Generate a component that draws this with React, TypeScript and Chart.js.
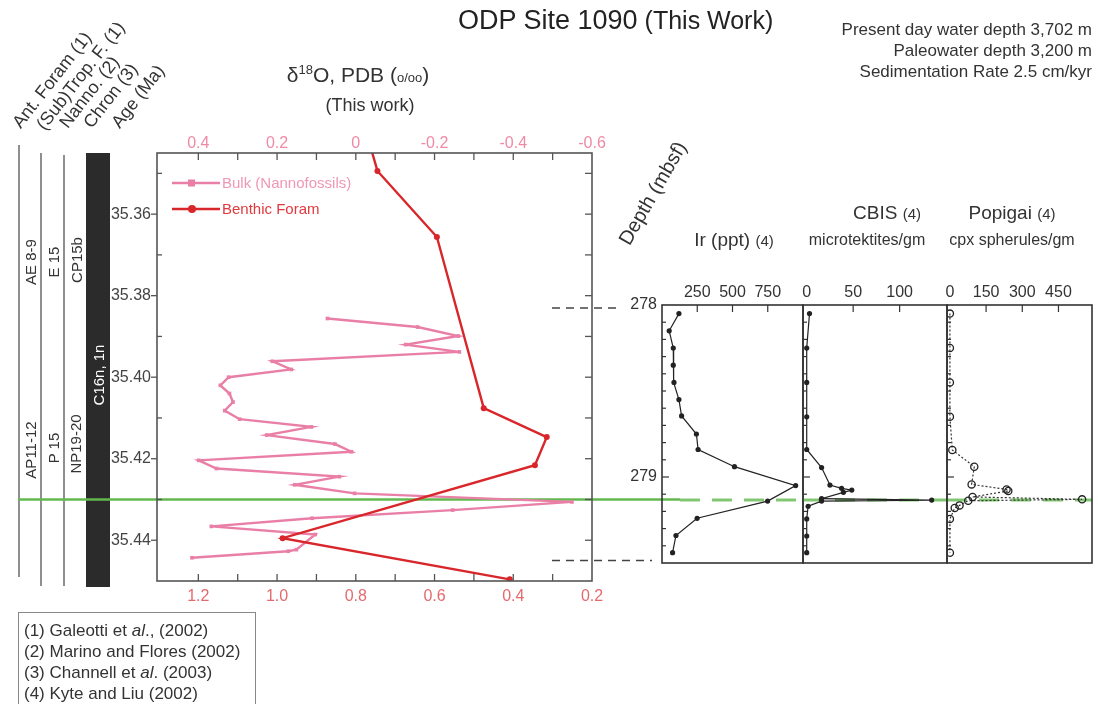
import React, { useEffect, useRef } from "react";
import { Chart, registerables } from "chart.js";

Chart.register(...registerables);

const W = 1098;
const H = 704;
const FONT = "'Liberation Sans', Arial, Helvetica, sans-serif";
Chart.defaults.font.family = FONT;
Chart.defaults.font.size = 16;

// ---------- δ18O panel (age, Ma) ----------
const BULK_AGE = [35.3856, 35.3877, 35.3899, 35.392, 35.3938, 35.3961, 35.3981, 35.4, 35.402, 35.404, 35.4061, 35.4082, 35.4103, 35.4122, 35.4142, 35.4164, 35.4183, 35.4204, 35.4224, 35.4244, 35.4264, 35.4285, 35.4306, 35.4326, 35.4346, 35.4366, 35.4386, 35.4423, 35.4427, 35.4443];
const BULK_D18O = [0.072, -0.157, -0.26, -0.127, -0.263, 0.212, 0.164, 0.323, 0.344, 0.321, 0.312, 0.333, 0.295, 0.113, 0.226, 0.053, 0.011, 0.399, 0.354, 0.042, 0.155, 0.003, -0.549, -0.246, 0.111, 0.367, 0.103, 0.151, 0.172, 0.416];
const BENTHIC_AGE = [35.335, 35.3494, 35.3656, 35.4076, 35.4147, 35.4216, 35.4395, 35.4496];
const BENTHIC_D18O = [0.788, 0.745, 0.594, 0.475, 0.315, 0.345, 0.986, 0.409];

const AGE_LABELS = [35.36, 35.38, 35.4, 35.42, 35.44];
const AGE_MINOR = [35.35, 35.36, 35.37, 35.38, 35.39, 35.4, 35.41, 35.42, 35.43, 35.44];
const TOP_LABELS = [0.4, 0.2, 0, -0.2, -0.4, -0.6];
const TOP_MINOR = [0.4, 0.3, 0.2, 0.1, 0, -0.1, -0.2, -0.3, -0.4, -0.5];
const BOT_LABELS = [1.2, 1.0, 0.8, 0.6, 0.4, 0.2];
const BOT_MINOR = [1.2, 1.1, 1.0, 0.9, 0.8, 0.7, 0.6, 0.5, 0.4, 0.3];

const IMPACT_AGE = 35.43;
const IMPACT_DEPTH = 279.134;
const TIE_AGES = [35.383, 35.445];

// ---------- impact-ejecta panels (depth, mbsf) ----------
const IR_DEPTH = [278.05, 278.15, 278.25, 278.35, 278.45, 278.55, 278.645, 278.75, 278.84, 278.94, 279.05, 279.14, 279.24, 279.34, 279.44];
const IR_PPT = [120, 51, 80, 80, 85, 120, 139, 244, 256, 514, 948, 749, 249, 99, 75];
const CBIS_DEPTH = [278.05, 278.25, 278.45, 278.65, 278.84, 278.945, 279.047, 279.066, 279.076, 279.089, 279.126, 279.134, 279.14, 279.17, 279.244, 279.343, 279.44];
const CBIS_COUNT = [3, 0, 0, 0, 0, 16, 25, 37.5, 48.5, 39.5, 16, 134.5, 16, 1.5, 0, 0, 0];
const POP_DEPTH = [278.05, 278.25, 278.45, 278.65, 278.843, 278.94, 279.043, 279.072, 279.081, 279.116, 279.13, 279.138, 279.165, 279.18, 279.244, 279.44];
const POP_COUNT = [0, 0, 0, 0, 10, 101, 90, 235, 242, 94, 548, 76, 40, 20, 0, 0];

const DEPTH_LABELS = [278, 279];
const DEPTH_MINOR = [278.1, 278.2, 278.3, 278.4, 278.5, 278.6, 278.7, 278.8, 278.9, 279, 279.1, 279.2, 279.3, 279.4];
const IR_TICKS = [250, 500, 750];
const CBIS_TICKS = [0, 50, 100];
const POP_TICKS = [0, 150, 300, 450];

const PINK = "#e97fa6";
const RED = "#d9262b";
const GREEN = "#62b84f";

function line(ctx: CanvasRenderingContext2D, x1: number, y1: number, x2: number, y2: number) {
  ctx.beginPath();
  ctx.moveTo(x1, y1);
  ctx.lineTo(x2, y2);
  ctx.stroke();
}

const mainDecor = {
  id: "mainDecor",
  beforeDatasetsDraw(chart: any) {
    const { ctx, scales } = chart;
    const y = scales.y;
    ctx.save();
    // stratigraphic columns
    ctx.strokeStyle = "#6a6a6a";
    ctx.lineWidth = 1.5;
    line(ctx, 19, 145, 19, 577);
    line(ctx, 41, 153, 41, 586);
    line(ctx, 64, 155, 64, 586);
    ctx.fillStyle = "#2b2b2b";
    ctx.fillRect(86, 153, 24, 434);
    // tie lines to depth panels
    ctx.strokeStyle = "#444";
    ctx.lineWidth = 1.5;
    ctx.setLineDash([8, 6]);
    const t1 = y.getPixelForValue(TIE_AGES[0]);
    const t2 = y.getPixelForValue(TIE_AGES[1]);
    line(ctx, 552, t1, 622, t1);
    line(ctx, 552, t2, 652, t2);
    ctx.setLineDash([]);
    // impact level
    const gy = y.getPixelForValue(IMPACT_AGE);
    ctx.strokeStyle = GREEN;
    ctx.lineWidth = 2.5;
    line(ctx, 18, gy, 680, gy);
    ctx.restore();
  },
  afterDatasetsDraw(chart: any) {
    const { ctx, chartArea: a, scales } = chart;
    const xt = scales.xTop, xb = scales.xBot, y = scales.y;
    ctx.save();
    ctx.strokeStyle = "#555";
    ctx.lineWidth = 1.3;
    TOP_MINOR.forEach((v) => {
      const x = xt.getPixelForValue(v);
      line(ctx, x, a.top, x, a.top + 7);
    });
    BOT_MINOR.forEach((v) => {
      const x = xb.getPixelForValue(v);
      line(ctx, x, a.bottom, x, a.bottom - 7);
    });
    AGE_MINOR.forEach((v) => {
      const py = y.getPixelForValue(v);
      const major = AGE_LABELS.some((l) => Math.abs(l - v) < 1e-6);
      if (major) line(ctx, a.left - 6, py, a.left, py);
      else line(ctx, a.left, py, a.left + 5, py);
      line(ctx, a.right - 7, py, a.right, py);
    });
    ctx.lineWidth = 1.6;
    ctx.strokeRect(a.left, a.top, a.right - a.left, a.bottom - a.top);
    // legend
    const items = [
      { label: "Bulk (Nannofossils)", color: PINK, text: "#f096b6", rect: true, dy: 30 },
      { label: "Benthic Foram", color: RED, text: "#e0393e", rect: false, dy: 56 },
    ];
    ctx.font = `15px ${FONT}`;
    ctx.textBaseline = "middle";
    items.forEach((it) => {
      const ly = a.top + it.dy;
      ctx.strokeStyle = it.color;
      ctx.lineWidth = 2.4;
      line(ctx, a.left + 15, ly, a.left + 63, ly);
      ctx.fillStyle = it.color;
      if (it.rect) ctx.fillRect(a.left + 31, ly - 3.5, 7, 7);
      else {
        ctx.beginPath();
        ctx.arc(a.left + 35, ly, 4, 0, Math.PI * 2);
        ctx.fill();
      }
      ctx.fillStyle = it.text;
      ctx.fillText(it.label, a.left + 65, ly + 1);
    });
    ctx.restore();
  },
};

function mainConfig(): any {
  const fixTicks = (vals: number[]) => (s: any) => {
    s.ticks = vals.map((v) => ({ value: v }));
  };
  return {
    type: "scatter",
    data: {
      datasets: [
        {
          label: "Bulk (Nannofossils)",
          data: BULK_AGE.map((a, i) => ({ x: BULK_D18O[i], y: a })),
          xAxisID: "xTop",
          yAxisID: "y",
          showLine: true,
          order: 1,
          borderColor: PINK,
          backgroundColor: PINK,
          borderWidth: 2.4,
          pointStyle: "rect",
          pointRadius: 2.6,
          pointBorderWidth: 0,
        },
        {
          label: "Benthic Foram",
          data: BENTHIC_AGE.map((a, i) => ({ x: BENTHIC_D18O[i], y: a })),
          xAxisID: "xBot",
          yAxisID: "y",
          showLine: true,
          order: 0,
          borderColor: RED,
          backgroundColor: RED,
          borderWidth: 2.4,
          pointRadius: 3,
          pointBorderWidth: 0,
        },
      ],
    },
    options: {
      responsive: false,
      animation: false,
      devicePixelRatio: 1,
      events: [],
      layout: { padding: { left: 97, right: 506, top: 123, bottom: 93 } },
      plugins: { legend: { display: false }, tooltip: { enabled: false } },
      scales: {
        xTop: {
          type: "linear",
          position: "top",
          min: -0.6,
          max: 0.505,
          reverse: true,
          grid: { display: false, drawTicks: false },
          border: { display: false },
          afterBuildTicks: fixTicks(TOP_LABELS),
          afterFit: (s: any) => {
            s.height = 30;
          },
          ticks: {
            autoSkip: false,
            maxRotation: 0,
            padding: 0,
            color: "#ef8aa6",
            font: { size: 16 },
            callback: (v: number) => (Math.abs(v) < 1e-9 ? "0" : v.toFixed(1)),
          },
        },
        xBot: {
          type: "linear",
          position: "bottom",
          min: 0.2,
          max: 1.305,
          reverse: true,
          grid: { display: false, drawTicks: false },
          border: { display: false },
          afterBuildTicks: fixTicks(BOT_LABELS),
          afterFit: (s: any) => {
            s.height = 30;
          },
          ticks: {
            autoSkip: false,
            maxRotation: 0,
            padding: 6,
            color: "#e46a6e",
            font: { size: 16 },
            callback: (v: number) => v.toFixed(1),
          },
        },
        y: {
          type: "linear",
          position: "left",
          min: 35.345,
          max: 35.45,
          reverse: true,
          grid: { display: false, drawTicks: false },
          border: { display: false },
          afterBuildTicks: fixTicks(AGE_LABELS),
          afterFit: (s: any) => {
            s.width = 60;
          },
          ticks: {
            autoSkip: false,
            padding: 6,
            color: "#444",
            font: { size: 16 },
            callback: (v: number) => v.toFixed(2),
          },
        },
      },
    },
    plugins: [mainDecor],
  };
}

function panelConfig(p: {
  depth: number[];
  values: number[];
  xMin: number;
  xMax: number;
  xTicks: number[];
  showDepth: boolean;
  padL: number;
  padR: number;
  popigai?: boolean;
  greenOffset: number;
}): any {
  const ds: any = {
    data: p.depth.map((d, i) => ({ x: p.values[i], y: d })),
    showLine: true,
    borderColor: "#222",
    borderWidth: 1.2,
    pointRadius: 2.6,
    pointBackgroundColor: "#222",
    pointBorderColor: "#222",
    pointBorderWidth: 0,
  };
  if (p.popigai) {
    Object.assign(ds, {
      borderDash: [2, 2],
      borderColor: "#333",
      pointRadius: 3.6,
      pointBackgroundColor: "rgba(255,255,255,0)",
      pointBorderWidth: 1.3,
    });
  }
  const plugin = {
    id: "panelDecor",
    beforeDatasetsDraw(chart: any) {
      const { ctx, chartArea: a, scales } = chart;
      const gy = scales.y.getPixelForValue(IMPACT_DEPTH);
      ctx.save();
      ctx.strokeStyle = "rgba(98,184,79,0.8)";
      ctx.lineWidth = 3;
      ctx.setLineDash([20, 12]);
      line(ctx, a.left + p.greenOffset, gy, a.right, gy);
      ctx.restore();
    },
    afterDatasetsDraw(chart: any) {
      const { ctx, chartArea: a, scales } = chart;
      ctx.save();
      ctx.strokeStyle = "#333";
      ctx.lineWidth = 1.2;
      p.xTicks.forEach((v) => {
        if (v <= 0) return;
        const x = scales.x.getPixelForValue(v);
        line(ctx, x, a.top, x, a.top + 7);
      });
      DEPTH_MINOR.forEach((v) => {
        const y = scales.y.getPixelForValue(v);
        const major = DEPTH_LABELS.some((l) => Math.abs(l - v) < 1e-6);
        line(ctx, a.left, y, a.left + (major ? 7 : 4), y);
      });
      ctx.lineWidth = 1.6;
      ctx.strokeRect(a.left, a.top, a.right - a.left, a.bottom - a.top);
      ctx.restore();
    },
  };
  return {
    type: "scatter",
    data: { datasets: [ds] },
    options: {
      responsive: false,
      animation: false,
      devicePixelRatio: 1,
      events: [],
      layout: { padding: { left: p.padL, right: p.padR, top: 280, bottom: 141 } },
      plugins: { legend: { display: false }, tooltip: { enabled: false } },
      scales: {
        x: {
          type: "linear",
          position: "top",
          min: p.xMin,
          max: p.xMax,
          grid: { display: false, drawTicks: false },
          border: { display: false },
          afterBuildTicks: (s: any) => {
            s.ticks = p.xTicks.map((v) => ({ value: v }));
          },
          afterFit: (s: any) => {
            s.height = 25;
          },
          ticks: { autoSkip: false, maxRotation: 0, padding: 3, color: "#333", font: { size: 16 } },
        },
        y: {
          type: "linear",
          position: "left",
          display: p.showDepth,
          min: 278,
          max: 279.5,
          reverse: true,
          grid: { display: false, drawTicks: false },
          border: { display: false },
          afterBuildTicks: (s: any) => {
            s.ticks = DEPTH_LABELS.map((v) => ({ value: v }));
          },
          afterFit: (s: any) => {
            s.width = p.showDepth ? 60 : 0;
          },
          ticks: { autoSkip: false, padding: 5, color: "#333", font: { size: 16 } },
        },
      },
    },
    plugins: [plugin],
  };
}

const abs: React.CSSProperties = { position: "absolute", whiteSpace: "nowrap" };

function Vert({ x, y, text, color = "#333", size = 15 }: any) {
  return (
    <div
      style={{
        ...abs,
        left: x,
        top: y,
        fontSize: size,
        lineHeight: 1,
        color,
        transform: "translate(-50%,-50%) rotate(-90deg)",
      }}
    >
      {text}
    </div>
  );
}

function Slant({ x, y, text, size = 18, angle = -52 }: any) {
  return (
    <div
      style={{
        ...abs,
        left: x,
        top: y - size,
        fontSize: size,
        lineHeight: `${size}px`,
        color: "#333",
        transformOrigin: "0 100%",
        transform: `rotate(${angle}deg)`,
      }}
    >
      {text}
    </div>
  );
}

function Center({ x, y, children, size = 16 }: any) {
  return (
    <div
      style={{
        ...abs,
        left: x,
        top: y,
        fontSize: size,
        lineHeight: 1.1,
        color: "#333",
        transform: "translate(-50%,-50%)",
      }}
    >
      {children}
    </div>
  );
}

export default function App() {
  const mainRef = useRef<HTMLCanvasElement>(null);
  const irRef = useRef<HTMLCanvasElement>(null);
  const cbRef = useRef<HTMLCanvasElement>(null);
  const popRef = useRef<HTMLCanvasElement>(null);

  useEffect(() => {
    const charts = [
      new Chart(mainRef.current as HTMLCanvasElement, mainConfig()),
      new Chart(
        irRef.current as HTMLCanvasElement,
        panelConfig({ depth: IR_DEPTH, values: IR_PPT, xMin: 0, xMax: 1000, xTicks: IR_TICKS, showDepth: true, padL: 602, padR: 295, greenOffset: 18 })
      ),
      new Chart(
        cbRef.current as HTMLCanvasElement,
        panelConfig({ depth: CBIS_DEPTH, values: CBIS_COUNT, xMin: -4, xMax: 151, xTicks: CBIS_TICKS, showDepth: false, padL: 803, padR: 151, greenOffset: 0 })
      ),
      new Chart(
        popRef.current as HTMLCanvasElement,
        panelConfig({ depth: POP_DEPTH, values: POP_COUNT, xMin: -12, xMax: 589, xTicks: POP_TICKS, showDepth: false, padL: 947, padR: 6, popigai: true, greenOffset: 0 })
      ),
    ];
    return () => charts.forEach((c) => c.destroy());
  }, []);

  const cv: React.CSSProperties = { position: "absolute", left: 0, top: 0, width: W, height: H };
  const small: React.CSSProperties = { fontSize: 15 };

  return (
    <div
      style={{
        position: "absolute",
        left: 0,
        top: 0,
        width: W,
        height: H,
        overflow: "hidden",
        background: "#fff",
        fontFamily: FONT,
        color: "#333",
      }}
    >
      <canvas ref={mainRef} width={W} height={H} style={cv} />
      <canvas ref={irRef} width={W} height={H} style={cv} />
      <canvas ref={cbRef} width={W} height={H} style={cv} />
      <canvas ref={popRef} width={W} height={H} style={cv} />

      {/* title */}
      <div style={{ ...abs, left: 458, top: 5, color: "#222", lineHeight: 1.15 }}>
        <span style={{ fontSize: 27 }}>ODP Site 1090</span>
        <span style={{ fontSize: 25 }}> (This Work)</span>
      </div>
      <div style={{ ...abs, right: 6, top: 19, fontSize: 17, lineHeight: "21px", textAlign: "right", color: "#333" }}>
        Present day water depth 3,702 m
        <br />
        Paleowater depth 3,200 m
        <br />
        Sedimentation Rate 2.5 cm/kyr
      </div>

      {/* δ18O axis title */}
      <Center x={358} y={75} size={21}>
        δ<sup style={{ fontSize: 13 }}>18</sup>O, PDB (<span style={{ fontSize: 13 }}>o/oo</span>)
      </Center>
      <Center x={370} y={106} size={18}>
        (This work)
      </Center>

      {/* column headers */}
      <Slant x={23} y={131} text="Ant. Foram (1)" />
      <Slant x={47} y={133} text="(Sub)Trop. F. (1)" />
      <Slant x={70} y={131} text="Nanno. (2)" />
      <Slant x={94} y={131} text="Chron (3)" />
      <Slant x={122} y={131} text="Age (Ma)" />

      {/* zones */}
      <Vert x={30} y={262} text="AE 8-9" />
      <Vert x={53} y={262} text="E 15" />
      <Vert x={76} y={260} text="CP15b" />
      <Vert x={30} y={450} text="AP11-12" />
      <Vert x={53} y={448} text="P 15" />
      <Vert x={75} y={444} text="NP19-20" />
      <Vert x={98} y={375} text="C16n, 1n" color="#fff" />

      {/* depth panels headings */}
      <Slant x={632} y={248} text="Depth (mbsf)" size={20} angle={-60} />
      <Center x={734} y={240} size={19}>
        Ir (ppt) <span style={small}>(4)</span>
      </Center>
      <Center x={887} y={213} size={19}>
        CBIS <span style={small}>(4)</span>
      </Center>
      <Center x={867} y={240} size={16}>
        microtektites/gm
      </Center>
      <Center x={1012} y={213} size={19}>
        Popigai <span style={small}>(4)</span>
      </Center>
      <Center x={1012} y={240} size={16}>
        cpx spherules/gm
      </Center>

      {/* references */}
      <div
        style={{
          position: "absolute",
          left: 18,
          top: 612,
          width: 238,
          height: 120,
          border: "1px solid #888",
          boxSizing: "border-box",
          padding: "7px 0 0 5px",
          fontSize: 17,
          lineHeight: "21px",
          color: "#333",
          whiteSpace: "nowrap",
        }}
      >
        <div>
          (1) Galeotti et <i>al</i>., (2002)
        </div>
        <div>(2) Marino and Flores (2002)</div>
        <div>
          (3) Channell et <i>al</i>. (2003)
        </div>
        <div>(4) Kyte and Liu (2002)</div>
      </div>
    </div>
  );
}
